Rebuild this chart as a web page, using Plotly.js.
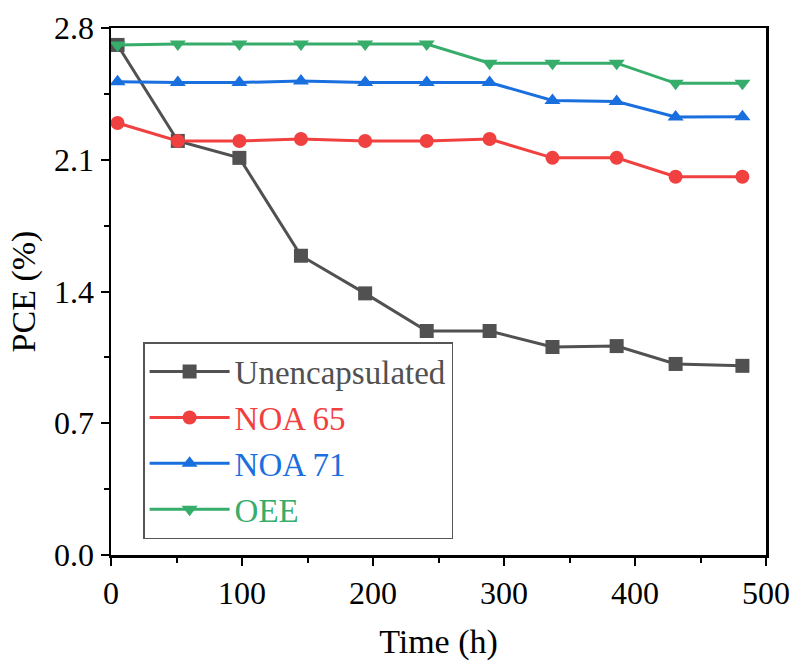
<!DOCTYPE html>
<html><head><meta charset="utf-8">
<script src="https://cdn.plot.ly/plotly-3.0.1.min.js"></script>
<style>body{margin:0;background:#fff}#c{width:793px;height:661px}</style>
</head><body><div id="c"></div>
<script>
const time = [5, 51, 98, 145, 194, 241, 289, 337, 386, 431, 482];
const unencapsulated = [2.71, 2.20, 2.11, 1.59, 1.39, 1.19, 1.19, 1.105, 1.11, 1.015, 1.005];
const noa65 = [2.295, 2.20, 2.20, 2.21, 2.20, 2.20, 2.21, 2.11, 2.11, 2.01, 2.01];
const noa71 = [2.515, 2.51, 2.51, 2.519, 2.51, 2.51, 2.51, 2.415, 2.409, 2.327, 2.329];
const oee = [2.71, 2.715, 2.715, 2.715, 2.715, 2.715, 2.613, 2.613, 2.613, 2.506, 2.506];
const names = ['Unencapsulated', 'NOA 65', 'NOA 71', 'OEE'];
const colors = ['#515151', '#F14040', '#1A6FDF', '#37AD6B'];
const symbols = ['square', 'circle', 'triangle-up', 'triangle-down'];
const series = [unencapsulated, noa65, noa71, oee];

const traces = series.map((ys, i) => ({
  x: time, y: ys, type: 'scatter', mode: 'lines+markers',
  name: '<span style="color:' + colors[i] + '">' + names[i] + '</span>',
  line: {color: colors[i], width: 3},
  marker: {symbol: symbols[i], size: 14, color: colors[i]}
}));

const fam = '"Liberation Serif", "Times New Roman", serif';
const layout = {
  width: 793, height: 661,
  margin: {l: 111, r: 27, t: 28, b: 106},
  paper_bgcolor: '#fff', plot_bgcolor: '#fff',
  font: {family: fam, color: '#000'},
  showlegend: true,
  legend: {
    x: 0.049, y: 0.404, xanchor: 'left', yanchor: 'top',
    bgcolor: 'rgba(255,255,255,0)', bordercolor: '#555', borderwidth: 1.5,
    font: {family: fam, size: 33}, tracegroupgap: 0, itemwidth: 80
  },
  xaxis: {
    range: [0, 500], tickvals: [0, 100, 200, 300, 400, 500],
    ticks: 'outside', ticklen: 8, tickwidth: 2, tickcolor: '#000',
    minor: {dtick: 50, ticks: 'outside', ticklen: 5, tickwidth: 2, tickcolor: '#000'},
    showline: true, linecolor: '#000', linewidth: 2.5, mirror: true,
    showgrid: false, zeroline: false, automargin: false,
    tickfont: {family: fam, size: 32},
    title: {text: 'Time (h)', font: {family: fam, size: 34}, standoff: 20}
  },
  yaxis: {
    range: [0, 2.8], tickvals: [0, 0.7, 1.4, 2.1, 2.8], ticktext: ['0.0', '0.7', '1.4', '2.1', '2.8'],
    ticks: 'outside', ticklen: 8, tickwidth: 2, tickcolor: '#000',
    minor: {dtick: 0.35, ticks: 'outside', ticklen: 5, tickwidth: 2, tickcolor: '#000'},
    showline: true, linecolor: '#000', linewidth: 2.5, mirror: true,
    showgrid: false, zeroline: false, automargin: false,
    tickfont: {family: fam, size: 32},
    title: {text: 'PCE (%)', font: {family: fam, size: 34}, standoff: 8}
  }
};
Plotly.newPlot('c', traces, layout, {displayModeBar: false, staticPlot: true});
</script></body></html>
